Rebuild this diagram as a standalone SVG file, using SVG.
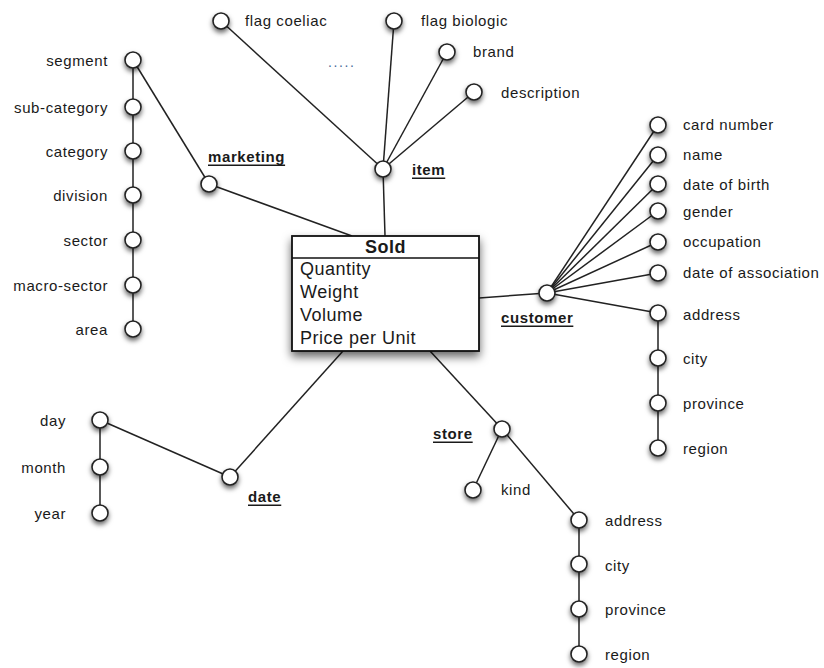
<svg xmlns="http://www.w3.org/2000/svg" width="824" height="668" viewBox="0 0 824 668">
<defs>
<filter id="sh" x="-60%" y="-60%" width="220%" height="240%">
<feDropShadow dx="0" dy="3" stdDeviation="2.5" flood-color="#000" flood-opacity="0.6"/>
</filter>
<filter id="bsh" x="-20%" y="-20%" width="140%" height="150%">
<feDropShadow dx="0" dy="5" stdDeviation="5" flood-color="#000" flood-opacity="0.6"/>
</filter>
</defs>
<style>
text{font-family:"Liberation Sans",Arial,sans-serif;fill:#1a1a1a}
.a{font-size:15px;letter-spacing:0.6px;dominant-baseline:central}
.r{text-anchor:end}
.l{font-size:15px;font-weight:bold;letter-spacing:0.6px;text-decoration:underline;dominant-baseline:central}
.b{font-size:18px;letter-spacing:0.5px;dominant-baseline:central}
.c{fill:#fff;stroke:#222;stroke-width:1.6;filter:url(#sh)}
.e{stroke:#222;stroke-width:1.5;fill:none}
</style>
<rect width="824" height="668" fill="#fff"/>
<g id="connectors" class="e">
<line x1="209" y1="184" x2="352" y2="236"/>
<line x1="133" y1="60" x2="209" y2="184"/>
<line x1="133" y1="60" x2="133" y2="329"/>
<line x1="383" y1="169" x2="385" y2="236"/>
<line x1="383" y1="169" x2="221" y2="21"/>
<line x1="383" y1="169" x2="394" y2="21"/>
<line x1="383" y1="169" x2="447" y2="52"/>
<line x1="383" y1="169" x2="474" y2="92"/>
<line x1="479" y1="298" x2="547" y2="293"/>
<line x1="547" y1="293" x2="658" y2="125"/>
<line x1="547" y1="293" x2="658" y2="155"/>
<line x1="547" y1="293" x2="658" y2="184"/>
<line x1="547" y1="293" x2="658" y2="211"/>
<line x1="547" y1="293" x2="658" y2="242"/>
<line x1="547" y1="293" x2="658" y2="273"/>
<line x1="547" y1="293" x2="658" y2="313"/>
<line x1="658" y1="313" x2="658" y2="448"/>
<line x1="430" y1="351" x2="502" y2="429"/>
<line x1="502" y1="429" x2="473" y2="490"/>
<line x1="502" y1="429" x2="579" y2="520"/>
<line x1="579" y1="520" x2="579" y2="654"/>
<line x1="343" y1="351" x2="230" y2="477"/>
<line x1="100" y1="420" x2="230" y2="477"/>
<line x1="100" y1="420" x2="100" y2="513"/>
</g>
<g id="sold">
<rect x="292" y="236" width="187" height="115" fill="#fff" stroke="#111" stroke-width="1.8" filter="url(#bsh)"/>
<line x1="292" y1="258" x2="479" y2="258" stroke="#111" stroke-width="1.5"/>
<text x="385.5" y="247" class="b" style="font-weight:bold;text-anchor:middle">Sold</text>
<text x="300" y="269" class="b">Quantity</text>
<text x="300" y="292" class="b">Weight</text>
<text x="300" y="315" class="b">Volume</text>
<text x="300" y="338" class="b">Price per Unit</text>
</g>
<g id="marketing"><circle cx="209" cy="184" r="8" class="c"/><text x="208" y="156" class="l">marketing</text></g>
<g id="segment"><circle cx="133" cy="60" r="8" class="c"/><text x="108" y="60" class="a r">segment</text></g>
<g id="sub-category"><circle cx="133" cy="107" r="8" class="c"/><text x="108" y="107" class="a r">sub-category</text></g>
<g id="category"><circle cx="133" cy="151" r="8" class="c"/><text x="108" y="151" class="a r">category</text></g>
<g id="division"><circle cx="133" cy="195" r="8" class="c"/><text x="108" y="195" class="a r">division</text></g>
<g id="sector"><circle cx="133" cy="240" r="8" class="c"/><text x="108" y="240" class="a r">sector</text></g>
<g id="macro-sector"><circle cx="133" cy="285" r="8" class="c"/><text x="108" y="285" class="a r">macro-sector</text></g>
<g id="area"><circle cx="133" cy="329" r="8" class="c"/><text x="108" y="329" class="a r">area</text></g>
<g id="item"><circle cx="383" cy="169" r="8" class="c"/><text x="412" y="169" class="l">item</text></g>
<g id="flag-coeliac"><circle cx="221" cy="21" r="8" class="c"/><text x="245" y="20" class="a">flag coeliac</text></g>
<g id="flag-biologic"><circle cx="394" cy="21" r="8" class="c"/><text x="421" y="20" class="a">flag biologic</text></g>
<g id="brand"><circle cx="447" cy="52" r="8" class="c"/><text x="473" y="51" class="a">brand</text></g>
<g id="description"><circle cx="474" cy="92" r="8" class="c"/><text x="501" y="92" class="a">description</text></g>
<g id="ellipsis"><text x="328" y="62" class="a" style="fill:#4a6a9a;font-size:14px;letter-spacing:1.6px">.....</text></g>
<g id="customer"><circle cx="547" cy="293" r="8" class="c"/><text x="501" y="317" class="l">customer</text></g>
<g id="card-number"><circle cx="658" cy="125" r="8" class="c"/><text x="683" y="124" class="a">card number</text></g>
<g id="name"><circle cx="658" cy="155" r="8" class="c"/><text x="683" y="154" class="a">name</text></g>
<g id="date-of-birth"><circle cx="658" cy="184" r="8" class="c"/><text x="683" y="184" class="a">date of birth</text></g>
<g id="gender"><circle cx="658" cy="211" r="8" class="c"/><text x="683" y="211" class="a">gender</text></g>
<g id="occupation"><circle cx="658" cy="242" r="8" class="c"/><text x="683" y="241" class="a">occupation</text></g>
<g id="date-of-association"><circle cx="658" cy="273" r="8" class="c"/><text x="683" y="272" class="a">date of association</text></g>
<g id="customer-address"><circle cx="658" cy="313" r="8" class="c"/><text x="683" y="314" class="a">address</text></g>
<g id="customer-city"><circle cx="658" cy="358" r="8" class="c"/><text x="683" y="358" class="a">city</text></g>
<g id="customer-province"><circle cx="658" cy="403" r="8" class="c"/><text x="683" y="403" class="a">province</text></g>
<g id="customer-region"><circle cx="658" cy="448" r="8" class="c"/><text x="683" y="448" class="a">region</text></g>
<g id="store"><circle cx="502" cy="429" r="8" class="c"/><text x="433" y="433" class="l">store</text></g>
<g id="kind"><circle cx="473" cy="490" r="8" class="c"/><text x="501" y="489" class="a">kind</text></g>
<g id="store-address"><circle cx="579" cy="520" r="8" class="c"/><text x="605" y="520" class="a">address</text></g>
<g id="store-city"><circle cx="579" cy="564" r="8" class="c"/><text x="605" y="565" class="a">city</text></g>
<g id="store-province"><circle cx="579" cy="609" r="8" class="c"/><text x="605" y="609" class="a">province</text></g>
<g id="store-region"><circle cx="579" cy="654" r="8" class="c"/><text x="605" y="654" class="a">region</text></g>
<g id="date"><circle cx="230" cy="477" r="8" class="c"/><text x="248" y="496" class="l">date</text></g>
<g id="day"><circle cx="100" cy="420" r="8" class="c"/><text x="66" y="420" class="a r">day</text></g>
<g id="month"><circle cx="100" cy="467" r="8" class="c"/><text x="66" y="467" class="a r">month</text></g>
<g id="year"><circle cx="100" cy="513" r="8" class="c"/><text x="66" y="513" class="a r">year</text></g>
</svg>
